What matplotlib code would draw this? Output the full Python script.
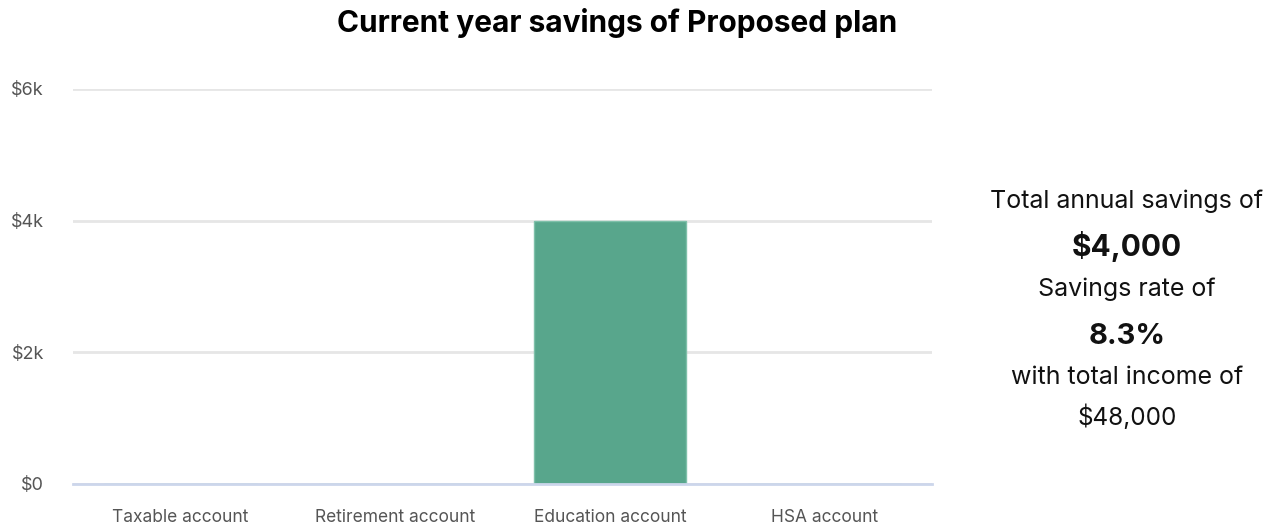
import matplotlib.pyplot as plt
from matplotlib.ticker import FuncFormatter

plt.rcParams['font.family'] = ['Inter', 'DejaVu Sans']

# Savings per account type
accounts = ['Taxable account', 'Retirement account', 'Education account', 'HSA account']
savings = [0, 0, 4000, 0]
total_savings = 4000
savings_rate = 8.3
total_income = 48000

fig = plt.figure(figsize=(12.77, 5.29), dpi=100)
ax = fig.add_axes([0.0572, 0.0851, 0.6727, 0.7467])

ax.bar(range(len(accounts)), savings, width=0.71, color='#58a68c',
       edgecolor='#7fc0aa', linewidth=1, zorder=3)

ax.set_xlim(-0.5, len(accounts) - 0.5)
ax.set_ylim(0, 6000)
ax.set_yticks([0, 2000, 4000, 6000])
ax.yaxis.set_major_formatter(FuncFormatter(lambda v, p: '$%dk' % (v / 1000) if v else '$0'))
ax.set_xticks(range(len(accounts)))
ax.set_xticklabels(accounts)

ax.grid(axis='y', color='#e6e6e6', linewidth=2, zorder=0)
for s in ['top', 'right', 'left']:
    ax.spines[s].set_visible(False)
ax.spines['bottom'].set_color('#ccd6eb')
ax.spines['bottom'].set_linewidth(2)
ax.spines['bottom'].set_zorder(4)
ax.tick_params(axis='both', length=0, labelcolor='#555555')
ax.tick_params(axis='x', pad=18, labelsize=12.5)
ax.tick_params(axis='y', pad=21, labelsize=13)

fig.text(0.483, 0.957, 'Current year savings of Proposed plan', ha='center', va='center',
         fontsize=21.5, fontweight='bold', color='#000000')

# Summary block on the right
cx = 1127 / 1277
lines = [
    ('Total annual savings of', 18, 'normal', 201),
    ('$%s' % format(total_savings, ','), 21.5, 'bold', 247),
    ('Savings rate of', 18, 'normal', 289),
    ('%.1f%%' % savings_rate, 21, 'bold', 336),
    ('with total income of', 18, 'normal', 378),
    ('$%s' % format(total_income, ','), 17.5, 'normal', 417),
]
for txt, size, weight, ypx in lines:
    fig.text(cx, 1 - ypx / 529, txt, ha='center', va='center', fontsize=size,
             fontweight=weight, color='#111111')

fig.savefig('out.png', dpi=100)
